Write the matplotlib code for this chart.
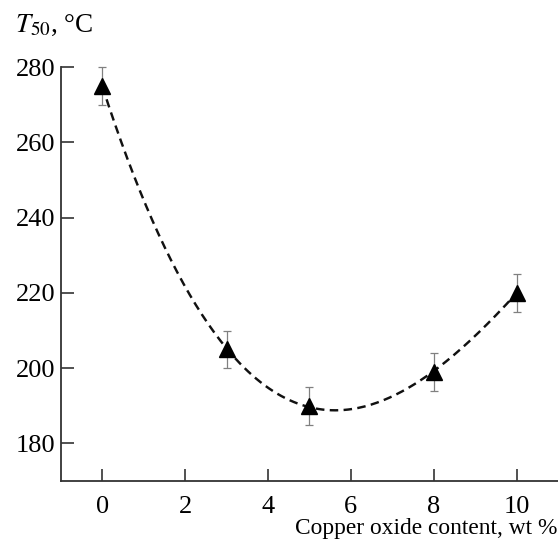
import numpy as np
import matplotlib
matplotlib.use("Agg")
import matplotlib.pyplot as plt

plt.rcParams['font.family'] = ['Liberation Serif', 'DejaVu Serif']
plt.rcParams['mathtext.fontset'] = 'stix'

# data
cuo_content = [0, 3, 5, 8, 10]
t50 = [275, 205, 190, 199, 220]
t50_err = [5, 5, 5, 5, 5]

x_ticks = [0, 2, 4, 6, 8, 10]
y_ticks = [180, 200, 220, 240, 260, 280]

fig = plt.figure(figsize=(5.58, 5.46), dpi=100)
ax = fig.add_axes([0.109, 0.119, 0.891, 0.758])

# dashed trend line (cubic fit of the measured points)
coeffs = np.polyfit(cuo_content, t50, 3)
x_fit = np.linspace(min(cuo_content), max(cuo_content), 200)
ax.plot(x_fit, np.polyval(coeffs, x_fit), ls=(0, (3.5, 2.2)), color='#111111', lw=1.75, zorder=2)

ax.errorbar(cuo_content, t50, yerr=t50_err, fmt='none', ecolor='#808080',
            elinewidth=0.9, capsize=2.8, capthick=0.9, zorder=1, clip_on=False)
ax.plot(cuo_content, t50, ls='none', marker='^', ms=11, color='black', zorder=3, clip_on=False)

ax.set_xlim(-1, 11)
ax.set_ylim(170, 280)
ax.set_xticks(x_ticks)
ax.set_yticks(y_ticks)

for side in ['top', 'right']:
    ax.spines[side].set_visible(False)
for side in ['left', 'bottom']:
    ax.spines[side].set_color('#333333')
    ax.spines[side].set_linewidth(1.3)

ax.tick_params(direction='in', length=9, width=1.2, color='#333333', labelsize=19)
ax.tick_params(axis='x', pad=11)
ax.tick_params(axis='y', pad=4)

fig.text(0.999, 0.012, 'Copper oxide content, wt %', ha='right', va='bottom', fontsize=16.8)
fig.text(0.026, 0.93, r'$T_{50}$, °C', ha='left', va='bottom', fontsize=19.5)

fig.savefig('out.png', dpi=100)
